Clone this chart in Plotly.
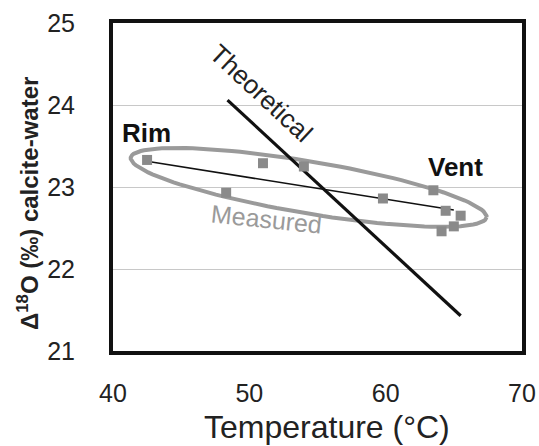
import math
import plotly.graph_objects as go

# ---- data ----
temp_c = [42.5, 51.0, 54.0, 48.3, 59.8, 63.5, 64.4, 65.5, 65.0, 64.1]
d18o = [23.33, 23.29, 23.25, 22.93, 22.86, 22.96, 22.71, 22.65, 22.52, 22.46]

fit_x = [42.6, 65.0]
fit_y = [23.31, 22.72]

theory_x = [48.4, 65.5]
theory_y = [24.06, 21.43]

x_ticks = [40, 50, 60, 70]
y_ticks = [21, 22, 23, 24, 25]

# ellipse drawn around "Measured" points: two tips (data) and half-width (px)
ell_tip1 = (41.3, 23.36)
ell_tip2 = (67.4, 22.63)
ell_half_minor_px = 26

# ---- layout constants (window pixels; body margin removed by post_script) ----
W, H = 539, 446
PL, PT, PR, PB = 113, 23, 522, 351          # plot box in window pixels
ML, MT, MR, MB = PL, PT, W - PR, H - PB
PW, PH = PR - PL, PB - PT
XR, YR = [40, 70], [21, 25]
sx = PW / (XR[1] - XR[0])
sy = PH / (YR[1] - YR[0])

# ellipse outline (computed in pixel space, converted back to data units)
p1 = (ell_tip1[0] * sx, -ell_tip1[1] * sy)
p2 = (ell_tip2[0] * sx, -ell_tip2[1] * sy)
cx, cy = (p1[0] + p2[0]) / 2, (p1[1] + p2[1]) / 2
a = math.hypot(p2[0] - p1[0], p2[1] - p1[1]) / 2
ang = math.atan2(p2[1] - p1[1], p2[0] - p1[0])
ex, ey = [], []
for i in range(121):
    t = 2 * math.pi * i / 120
    u, v = a * math.cos(t), ell_half_minor_px * math.sin(t)
    px = cx + u * math.cos(ang) - v * math.sin(ang)
    py = cy + u * math.sin(ang) + v * math.cos(ang)
    ex.append(px / sx)
    ey.append(-py / sy)

FONT = "Arial, Liberation Sans, sans-serif"

fig = go.Figure()
fig.add_trace(go.Scatter(x=ex, y=ey, mode="lines",
                         line=dict(color="#9a9a9a", width=4),
                         hoverinfo="skip", showlegend=False))
fig.add_trace(go.Scatter(x=fit_x, y=fit_y, mode="lines",
                         line=dict(color="#111111", width=1.6),
                         showlegend=False))
fig.add_trace(go.Scatter(x=theory_x, y=theory_y, mode="lines",
                         line=dict(color="#111111", width=3.2),
                         showlegend=False))
fig.add_trace(go.Scatter(x=temp_c, y=d18o, mode="markers",
                         marker=dict(symbol="square", size=10, color="#8a8a8a",
                                     line=dict(width=0)),
                         showlegend=False))


def px_ann(text, px, py, size, color, angle=0):
    # px, py: window pixel position of the text centre
    return dict(text=text, x=(px - PL) / PW, y=(PB - py) / PH,
                xref="paper", yref="paper", showarrow=False, textangle=angle,
                xanchor="center", yanchor="middle",
                font=dict(size=size, color=color, family=FONT))


ann = [
    px_ann("<b>Rim</b>", 146, 133, 26, "#111111"),
    px_ann("<b>Vent</b>", 455, 167, 26, "#111111"),
    px_ann("Theoretical", 261, 93, 26, "#222222", 43),
    px_ann("Measured", 266, 219, 25, "#9a9a9a", 6),
    px_ann("<b>Δ<sup>18</sup>O (‰) calcite-water</b>", 28, 204, 24, "#222222", -90),
    px_ann("Temperature (°C)", 327, 427, 32, "#222222"),
]

fig.update_layout(
    width=W, height=H,
    margin=dict(l=ML, r=MR, t=MT, b=MB, autoexpand=False),
    paper_bgcolor="white", plot_bgcolor="white",
    font=dict(family=FONT, color="#222222"),
    annotations=ann,
    xaxis=dict(range=XR, tickvals=x_ticks, ticktext=[str(v) for v in x_ticks],
               showgrid=False, zeroline=False, showline=True, mirror=True,
               linecolor="#111111", linewidth=4, ticks="", automargin=False,
               ticklabelstandoff=17,
               tickfont=dict(size=25, color="#222222")),
    yaxis=dict(range=YR, tickvals=y_ticks, ticktext=[str(v) for v in y_ticks],
               showgrid=True, gridcolor="#c8c8c8", gridwidth=1,
               zeroline=False, showline=True, mirror=True, automargin=False,
               linecolor="#111111", linewidth=4, ticks="",
               ticklabelstandoff=29,
               tickfont=dict(size=25, color="#222222")),
)

fig.write_html(
    "out.html",
    config={"displayModeBar": False},
    post_script="document.body.style.margin='0';document.body.style.overflow='hidden';",
)
